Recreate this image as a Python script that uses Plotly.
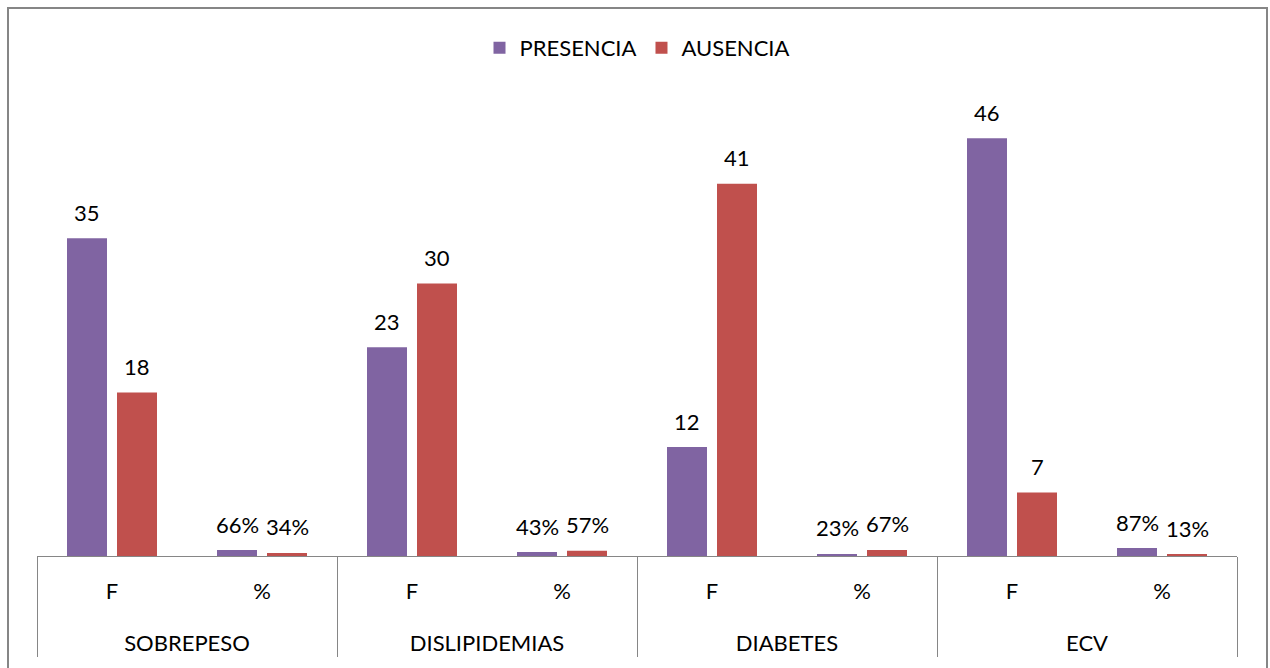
import plotly.graph_objects as go

groups = ["SOBREPESO", "DISLIPIDEMIAS", "DIABETES", "ECV"]
subcats = ["F", "%"]
presencia_f = [35, 23, 12, 46]
ausencia_f = [18, 30, 41, 7]
presencia_pct = [0.66, 0.43, 0.23, 0.87]
ausencia_pct = [0.34, 0.57, 0.67, 0.13]

PURPLE = "#8064A2"
RED = "#C0504D"
FONT = "Lato"
FS = 22
AXFS = 26

outer = []
inner = []
pres_vals = []
aus_vals = []
pres_text = []
aus_text = []
for i, g in enumerate(groups):
    lab = f"<br><span style='font-size:{FS}px'>{g}</span>"
    outer += [lab, lab]
    inner += [f"<span style='font-size:{FS}px'>{s}</span>" for s in subcats]
    pres_vals += [presencia_f[i], presencia_pct[i]]
    aus_vals += [ausencia_f[i], ausencia_pct[i]]
    pres_text += [f"{presencia_f[i]}", f"{round(presencia_pct[i]*100)}%"]
    aus_text += [f"{ausencia_f[i]}", f"{round(ausencia_pct[i]*100)}%"]

fig = go.Figure()
fig.add_trace(go.Bar(x=[outer, inner], y=pres_vals, name="PRESENCIA",
                     marker=dict(color=PURPLE, line=dict(width=0))))
fig.add_trace(go.Bar(x=[outer, inner], y=aus_vals, name="AUSENCIA",
                     marker=dict(color=RED, line=dict(width=0))))

annotations = []
for idx in range(len(outer)):
    annotations.append(dict(x=idx, y=pres_vals[idx], xref="x", yref="y", text=pres_text[idx],
                            showarrow=False, xshift=-25, yshift=26, yanchor="middle",
                            font=dict(family=FONT, size=FS, color="#000000")))
    annotations.append(dict(x=idx, y=aus_vals[idx], xref="x", yref="y", text=aus_text[idx],
                            showarrow=False, xshift=25, yshift=26, yanchor="middle",
                            font=dict(family=FONT, size=FS, color="#000000")))

fig.update_layout(
    width=1270, height=668,
    margin=dict(l=37, r=33, t=102, b=112),
    paper_bgcolor="white", plot_bgcolor="white",
    barmode="group", bargap=1/3, bargroupgap=0.2,
    font=dict(family=FONT, size=FS, color="#000000"),
    showlegend=True,
    legend=dict(orientation="h", x=0.5, xanchor="center", y=(556 - 48) / 454, yanchor="middle",
                font=dict(family=FONT, size=FS), itemwidth=30, traceorder="normal"),
    xaxis=dict(type="multicategory", showline=True, linecolor="#868686", linewidth=1,
               showdividers=True, dividercolor="#868686", dividerwidth=1,
               ticks="", showgrid=False, ticklabelstandoff=11, automargin=False,
               tickfont=dict(family=FONT, size=AXFS)),
    yaxis=dict(range=[0, 50], visible=False, showgrid=False, automargin=False),
    annotations=annotations,
    shapes=[dict(type="rect", xref="paper", yref="paper",
                 x0=(8 - 37) / 1200, x1=(1267 - 37) / 1200,
                 y0=-0.4, y1=(556 - 8) / 454,
                 line=dict(color="#868686", width=2), fillcolor="rgba(0,0,0,0)", layer="below")],
)

fig.write_html("out.html")
